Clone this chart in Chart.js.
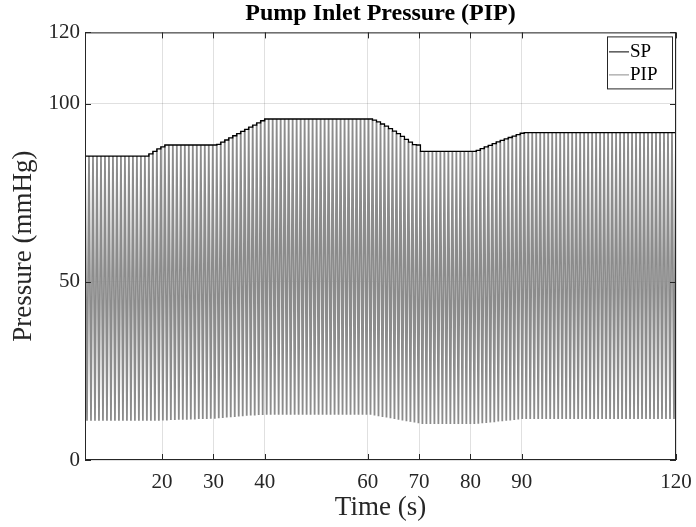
<!DOCTYPE html>
<html>
<head>
<meta charset="utf-8">
<script src="https://cdn.jsdelivr.net/npm/chart.js@4"></script>
<style>
  html, body { margin: 0; padding: 0; background: #fff; }
  #wrap { width: 696px; height: 527px; }
</style>
</head>
<body>
<div id="wrap"><canvas id="pipChart" width="696" height="527"></canvas></div>
<script>
// beat timing (s)
const beatStart = 5;
const beatPeriod = 0.777;

// set point per beat (mmHg)
const spValues = [
  85.3, 85.3, 85.3, 85.3, 85.3, 85.3, 85.3, 85.3, 85.3, 85.3, 85.3, 85.3, 85.3, 85.3, 85.3, 85.3,
  85.9, 86.6, 87.3, 87.9, 88.4,
  88.4, 88.4, 88.4, 88.4, 88.4, 88.4, 88.4, 88.4, 88.4, 88.4, 88.4, 88.4,
  88.6, 89.2, 89.8, 90.4, 91.0, 91.6, 92.2, 92.8, 93.4, 94.0, 94.6, 95.2, 95.7,
  95.7, 95.7, 95.7, 95.7, 95.7, 95.7, 95.7, 95.7, 95.7, 95.7, 95.7, 95.7, 95.7,
  95.7, 95.7, 95.7, 95.7, 95.7, 95.7, 95.7, 95.7, 95.7, 95.7, 95.7, 95.7, 95.7,
  95.4, 94.9, 94.3, 93.7, 93.0, 92.3, 91.6, 90.8, 90.0, 89.2, 88.5, 88.4,
  86.6, 86.6, 86.6, 86.6, 86.6, 86.6, 86.6, 86.6, 86.6, 86.6, 86.6, 86.6, 86.6, 86.6,
  86.9, 87.4, 87.9, 88.3, 88.8, 89.3, 89.7, 90.1, 90.5, 90.9, 91.3, 91.7,
  91.9, 91.9, 91.9, 91.9, 91.9, 91.9, 91.9, 91.9, 91.9, 91.9, 91.9, 91.9, 91.9,
  91.9, 91.9, 91.9, 91.9, 91.9, 91.9, 91.9, 91.9, 91.9, 91.9, 91.9, 91.9, 91.9,
  91.9, 91.9, 91.9, 91.9, 91.9, 91.9, 91.9, 91.9, 91.9, 91.9, 91.9, 91.9
];

// pump inlet pressure minimum per beat (mmHg)
const pipMinValues = [
  11.0, 11.0, 11.0, 11.0, 11.0, 11.0, 11.0, 11.0, 11.0, 11.0, 11.0, 11.0, 11.0, 11.0, 11.0, 11.0,
  11.0, 11.0, 11.0,
  11.1, 11.1, 11.2, 11.2, 11.3, 11.3, 11.3, 11.4, 11.4, 11.5, 11.5, 11.5, 11.6, 11.6,
  11.7, 11.8, 11.9, 12.0, 12.1, 12.2, 12.3, 12.4, 12.5, 12.5, 12.6, 12.6, 12.7,
  12.7, 12.7, 12.7, 12.7, 12.7, 12.7, 12.7, 12.7, 12.7, 12.7, 12.7, 12.7, 12.7,
  12.7, 12.7, 12.7, 12.7, 12.7, 12.7, 12.7, 12.7, 12.7, 12.7, 12.7, 12.7, 12.7,
  12.5, 12.3, 12.1, 11.9, 11.7, 11.5, 11.3, 11.1, 10.9, 10.7, 10.5, 10.3,
  10.1, 10.1, 10.1, 10.1, 10.1, 10.1, 10.1, 10.1, 10.1, 10.1, 10.1, 10.1, 10.1, 10.1,
  10.2, 10.3, 10.4, 10.5, 10.6, 10.8, 10.9, 11.0, 11.1, 11.2, 11.4, 11.5,
  11.5, 11.5, 11.5, 11.5, 11.5, 11.5, 11.5, 11.5, 11.5, 11.5, 11.5, 11.5, 11.5,
  11.5, 11.5, 11.5, 11.5, 11.5, 11.5, 11.5, 11.5, 11.5, 11.5, 11.5, 11.5, 11.5,
  11.5, 11.5, 11.5, 11.5, 11.5, 11.5, 11.5, 11.5, 11.5, 11.5, 11.5, 11.5
];

// axis ticks
const xTicks = [20, 30, 40, 60, 70, 80, 90, 120];
const yTicks = [0, 50, 100, 120];

const serif = "'Liberation Serif', 'Times New Roman', serif";
const spColor = '#000000';
const pipColor = 'rgb(140,140,140)';

// build datasets from the per-beat values
const spData = [];
const pipData = [];
spValues.forEach((v, k) => {
  const t = beatStart + k * beatPeriod;
  spData.push({ x: t, y: v });
  pipData.push({ x: t, y: v });
  pipData.push({ x: t + beatPeriod / 2, y: pipMinValues[k] });
});
spData.push({ x: 120, y: spValues[spValues.length - 1] });
pipData.push({ x: 120, y: spValues[spValues.length - 1] });

// box, inward ticks and legend (MATLAB look)
const boxPlugin = {
  id: 'boxPlugin',
  afterDraw(chart) {
    const { ctx, chartArea: a, scales } = chart;
    ctx.save();
    ctx.strokeStyle = '#262626';
    ctx.lineWidth = 1;
    ctx.strokeRect(a.left + 0.5, a.top + 0.5, a.right - a.left - 1, a.bottom - a.top - 1);
    ctx.beginPath();
    xTicks.forEach(v => {
      const px = Math.round(scales.x.getPixelForValue(v)) + 0.5;
      ctx.moveTo(px, a.bottom); ctx.lineTo(px, a.bottom - 6);
      ctx.moveTo(px, a.top); ctx.lineTo(px, a.top + 6);
    });
    yTicks.forEach(v => {
      const py = Math.round(scales.y.getPixelForValue(v)) + 0.5;
      ctx.moveTo(a.left, py); ctx.lineTo(a.left + 6, py);
      ctx.moveTo(a.right, py); ctx.lineTo(a.right - 6, py);
    });
    ctx.stroke();

    // legend box in the top right corner of the axes
    const items = chart.data.datasets.map(d => ({ text: d.label, color: d.borderColor }));
    const w = 66, h = 53;
    const lx = a.right - 3 - w, ly = a.top + 4;
    ctx.fillStyle = '#fff';
    ctx.fillRect(lx, ly, w, h);
    ctx.strokeRect(lx + 0.5, ly + 0.5, w - 1, h - 1);
    ctx.font = '19px ' + serif;
    ctx.textBaseline = 'middle';
    ctx.textAlign = 'left';
    items.forEach((it, i) => {
      const cy = ly + 15 + i * 23;
      ctx.beginPath();
      ctx.strokeStyle = it.color;
      ctx.moveTo(lx + 2, cy + 0.5); ctx.lineTo(lx + 22, cy + 0.5);
      ctx.stroke();
      ctx.fillStyle = '#000';
      ctx.fillText(it.text, lx + 23, cy + 1);
    });
    ctx.restore();
  }
};

new Chart(document.getElementById('pipChart').getContext('2d'), {
  type: 'line',
  data: {
    datasets: [
      {
        label: 'SP',
        data: spData,
        borderColor: spColor,
        backgroundColor: spColor,
        borderWidth: 1.3,
        pointRadius: 0,
        stepped: 'before',
        order: 0
      },
      {
        label: 'PIP',
        data: pipData,
        borderColor: pipColor,
        backgroundColor: pipColor,
        borderWidth: 1.8,
        pointRadius: 0,
        tension: 0,
        order: 1
      }
    ]
  },
  options: {
    responsive: false,
    animation: false,
    layout: { padding: { left: 0, right: 20, top: 0, bottom: 0 } },
    plugins: {
      title: {
        display: true,
        text: 'Pump Inlet Pressure (PIP)',
        color: '#000',
        fullSize: false,
        font: { family: serif, size: 24, weight: 'bold', lineHeight: 1.1 },
        padding: { top: 1, bottom: 5 }
      },
      legend: { display: false },
      tooltip: { enabled: false }
    },
    scales: {
      x: {
        type: 'linear',
        min: 5,
        max: 120,
        afterBuildTicks: s => { s.ticks = xTicks.map(v => ({ value: v })); },
        afterFit: s => { s.height = 67; s.paddingLeft = 0; s.paddingRight = 0; },
        grid: { color: 'rgba(0,0,0,0.12)', drawTicks: false },
        border: { display: false },
        ticks: { color: '#262626', font: { family: serif, size: 21 }, padding: 10, maxRotation: 0 },
        title: { display: true, text: 'Time (s)', color: '#262626', font: { family: serif, size: 27 }, padding: { top: 0, bottom: 3 } }
      },
      y: {
        min: 0,
        max: 120,
        afterBuildTicks: s => { s.ticks = yTicks.map(v => ({ value: v })); },
        afterFit: s => { s.width = 85; },
        grid: { color: 'rgba(0,0,0,0.12)', drawTicks: false },
        border: { display: false },
        ticks: { color: '#262626', font: { family: serif, size: 21 }, padding: 5 },
        title: { display: true, text: 'Pressure (mmHg)', color: '#262626', font: { family: serif, size: 27 }, padding: { top: 8, bottom: 0 } }
      }
    }
  },
  plugins: [boxPlugin]
});
</script>
</body>
</html>
